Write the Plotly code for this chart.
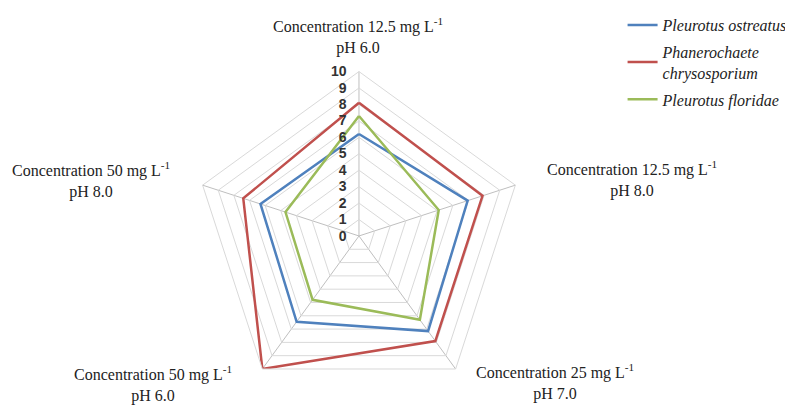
import plotly.graph_objects as go

categories = [
    "Concentration 12.5 mg L<sup>-1</sup><br>pH 6.0",
    "Concentration 12.5 mg L<sup>-1</sup><br>pH 8.0",
    "Concentration 25 mg L<sup>-1</sup><br>pH 7.0",
    "Concentration 50 mg L<sup>-1</sup><br>pH 6.0",
    "Concentration 50 mg L<sup>-1</sup><br>pH 8.0",
]
series_names = ["<i>Pleurotus ostreatus</i>", "<i>Phanerochaete<br>chrysosporium</i>", "<i>Pleurotus floridae</i>"]
ostreatus = [6.2, 6.95, 7.15, 6.45, 6.3]
chrysosporium = [8.1, 7.9, 7.9, 10.0, 7.4]
floridae = [7.3, 5.1, 6.3, 4.8, 4.7]
radial_ticks = list(range(0, 11))
colors = ["#4f81bd", "#c0504d", "#9bbb59"]

# label anchor positions (paper coords) for each category
label_pos = [(0.441, 0.958), (0.787, 0.597), (0.690, 0.084), (0.183, 0.078), (0.105, 0.593)]

fig = go.Figure()
for name, vals, col in zip(series_names, [ostreatus, chrysosporium, floridae], colors):
    fig.add_trace(go.Scatterpolar(
        r=vals + vals[:1], theta=categories + categories[:1], mode="lines",
        name=name, line=dict(color=col, width=2.5), legendgroup=name,
    ))

for cat, (x, y) in zip(categories, label_pos):
    fig.add_annotation(text=cat, x=x, y=y, xref="paper", yref="paper", showarrow=False,
                       xanchor="center", yanchor="middle",
                       font=dict(family="Liberation Serif", size=16, color="#222"), align="center")

fig.update_layout(
    width=793, height=407, margin=dict(l=0, r=0, t=0, b=0),
    paper_bgcolor="white", plot_bgcolor="white",
    polar=dict(
        domain=dict(x=[0.2295, 0.6557], y=[0.0369, 0.8673]),
        bgcolor="white",
        gridshape="linear",
        angularaxis=dict(rotation=90, direction="clockwise", showticklabels=False, ticks="",
                         gridcolor="#bfbfbf", linecolor="#d9d9d9", linewidth=1),
        radialaxis=dict(range=[0, 10], tickvals=radial_ticks, angle=90, tickangle=90,
                        side="counterclockwise", showline=False,
                        ticks="outside", ticklen=7, tickcolor="rgba(0,0,0,0)",
                        gridcolor="#d9d9d9",
                        tickfont=dict(family="Liberation Sans", size=14, color="#333", weight="bold")),
    ),
    legend=dict(x=0.775, y=1.029, xanchor="left", yanchor="top", tracegroupgap=3,
                font=dict(family="Liberation Serif", size=16, color="#222"),
                bgcolor="rgba(0,0,0,0)"),
    showlegend=True,
)

fig.write_html("out.html")
